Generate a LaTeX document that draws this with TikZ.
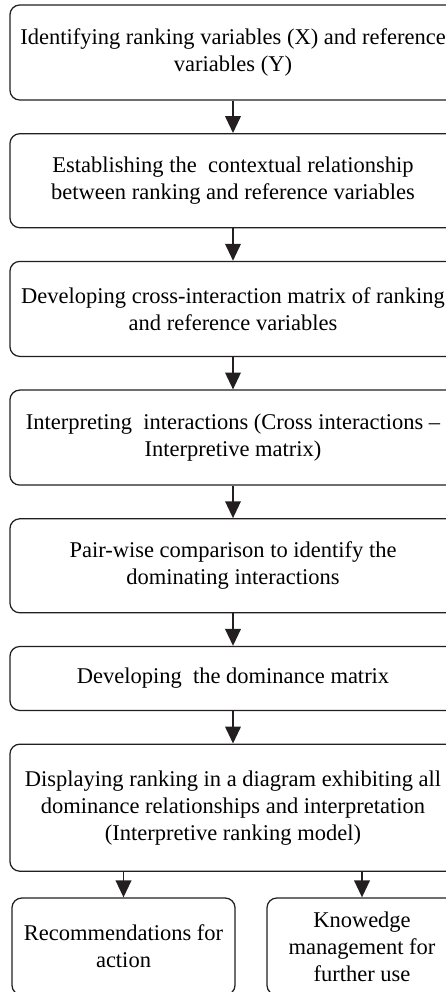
\documentclass[tikz,border=0pt]{standalone}
\usepackage{fontspec}
\setmainfont{Liberation Serif}
\usetikzlibrary{arrows.meta,positioning}
\definecolor{cizgiSiyah}{HTML}{231F20}

\begin{document}
\begin{tikzpicture}[x=0.025cm,y=-0.025cm,node distance=0.81cm,
  kutu/.style={draw=cizgiSiyah,line width=0.9pt,rounded corners=7pt,align=center,
    inner sep=0pt,minimum width=11.15cm,font=\fontsize{16}{19.2}\selectfont},
  ok/.style={draw=cizgiSiyah,line width=1.4pt,-{Triangle[length=12pt,width=11pt]}}]
\clip (0,0) rectangle (446,992);
\node[kutu,minimum height=2.375cm] (ident) at (233,52.5)
  {Identifying ranking variables (X) and reference\\variables (Y)};
\node[kutu,minimum height=2.35cm,below=of ident] (context)
  {Establishing the\ \ contextual relationship\\between ranking and reference variables};
\node[kutu,minimum height=2.375cm,below=of context] (crossmat)
  {Developing cross-interaction matrix of ranking\\and reference variables};
\node[kutu,minimum height=2.375cm,below=of crossmat] (interp)
  {Interpreting\ \ interactions (Cross interactions --\\Interpretive matrix)};
\node[kutu,minimum height=2.35cm,below=of interp] (pairwise)
  {Pair-wise comparison to identify the\\dominating interactions};
\node[kutu,minimum height=1.6cm,below=of pairwise] (dommat)
  {Developing\ \ the dominance matrix};
\node[kutu,minimum height=3.175cm,below=of dommat] (irm)
  {Displaying ranking in a diagram exhibiting all\\dominance relationships and interpretation\\(Interpretive ranking model)};
\node[kutu,minimum width=5.575cm,minimum height=2.425cm] (recom) at (123.5,946.5)
  {Recommendations for\\action};
\node[kutu,minimum width=4.75cm,minimum height=2.425cm] (knowl) at (362,946.5)
  {Knowedge\\management for\\further use};
\draw[ok] (ident) -- (context);
\draw[ok] (context) -- (crossmat);
\draw[ok] (crossmat) -- (interp);
\draw[ok] (interp) -- (pairwise);
\draw[ok] (pairwise) -- (dommat);
\draw[ok] (dommat) -- (irm);
\draw[ok] (irm.south -| recom) -- (recom);
\draw[ok] (irm.south -| knowl) -- (knowl);
\end{tikzpicture}
\end{document}
